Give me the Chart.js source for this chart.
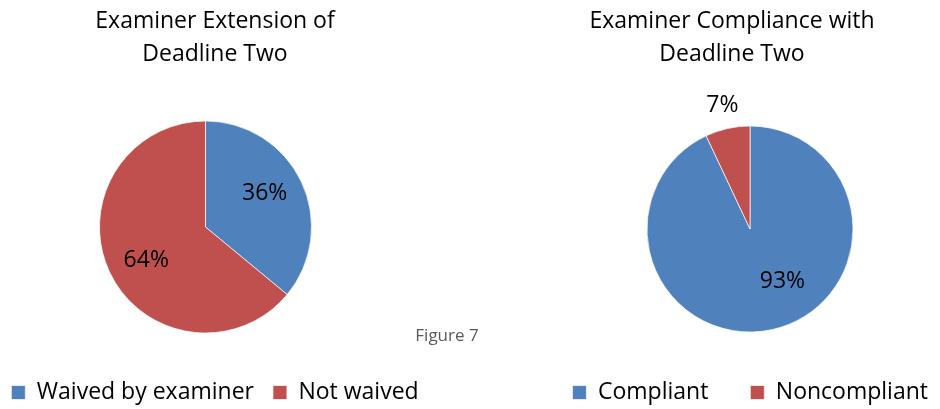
<!DOCTYPE html>
<html>
<head>
<meta charset="utf-8">
<title>Figure 7</title>
<script src="https://cdn.jsdelivr.net/npm/chart.js@4.4.0/dist/chart.umd.min.js"></script>
<style>
    html, body { margin: 0; padding: 0; background: #fff; }
    body { width: 940px; height: 409px; position: relative; overflow: hidden; }
    canvas { position: absolute; top: 0; }
    #extensionChart { left: -30px; }
    #complianceChart { left: 494px; }
    .caption {
        position: absolute; left: 397px; width: 100px; top: 323px;
        text-align: center; font: 17px 'Open Sans', sans-serif; color: #595959;
    }
</style>
</head>
<body>
<canvas id="extensionChart" width="490" height="414"></canvas>
<canvas id="complianceChart" width="476" height="414"></canvas>
<div class="caption">Figure 7</div>

<script>
// Chart data
const extensionLabels = ['Waived by examiner', 'Not waived'];
const extensionValues = [36, 64];

const complianceLabels = ['Compliant', 'Noncompliant'];
const complianceValues = [93, 7];

const sliceColors = ['#4F81BD', '#C0504D'];
const FONT = "'Open Sans', sans-serif";

// moves the pie sideways inside the chart area without touching title / legend
const pieShift = {
    id: 'pieShift',
    afterLayout(chart, args, opts) {
        const dx = opts.dx || 0;
        chart.chartArea.left += dx;
        chart.chartArea.right += dx;
    }
};

// percentage labels, Excel style: inside the slice, small slices outside
const percentLabels = {
    id: 'percentLabels',
    afterDatasetsDraw(chart, args, opts) {
        const ctx = chart.ctx;
        const meta = chart.getDatasetMeta(0);
        const values = chart.data.datasets[0].data;
        const total = values.reduce((a, b) => a + b, 0);
        ctx.save();
        ctx.font = '23px ' + FONT;
        ctx.fillStyle = '#000';
        ctx.textAlign = 'center';
        ctx.textBaseline = 'middle';
        meta.data.forEach((arc, i) => {
            const p = arc.getProps(['x', 'y', 'startAngle', 'endAngle', 'outerRadius'], true);
            const pct = values[i] / total * 100;
            let angle = (p.startAngle + p.endAngle) / 2;
            let dist = opts.dist;
            if (pct < 10) {
                dist = 1.23;
            } else {
                angle += (opts.shift || 0) * Math.PI / 180;
            }
            const x = p.x + Math.cos(angle) * p.outerRadius * dist;
            const y = p.y + Math.sin(angle) * p.outerRadius * dist;
            ctx.fillText(Math.round(pct) + '%', x, y);
        });
        ctx.restore();
    }
};

function makePie(id, title, labels, values, o) {
    const ctx = document.getElementById(id);
    return new Chart(ctx, {
        type: 'pie',
        data: {
            labels: labels,
            datasets: [{
                data: values,
                backgroundColor: sliceColors,
                borderColor: 'rgba(255,255,255,0.7)',
                borderWidth: 1,
                radius: o.radius
            }]
        },
        options: {
            responsive: false,
            animation: false,
            layout: { padding: 0 },
            plugins: {
                title: {
                    display: true,
                    text: title,
                    color: '#000',
                    font: { family: FONT, size: 23, weight: 'normal', lineHeight: 1.435 },
                    padding: { top: 5, bottom: o.titleGap }
                },
                legend: {
                    position: 'bottom',
                    align: o.legendAlign,
                    labels: {
                        color: '#000',
                        font: { family: FONT, size: 23 },
                        boxWidth: 14,
                        boxHeight: 14,
                        padding: o.legendGap
                    }
                },
                tooltip: { enabled: false },
                pieShift: { dx: o.dx },
                percentLabels: { dist: o.dist, shift: o.shift }
            }
        },
        plugins: [pieShift, percentLabels]
    });
}

makePie('extensionChart', ['Examiner Extension of', 'Deadline Two'],
    extensionLabels, extensionValues,
    { radius: 106, titleGap: 21, legendGap: 19, legendAlign: 'center', dx: -9.5, dist: 0.64, shift: -4 });

makePie('complianceChart', ['Examiner Compliance with', 'Deadline Two'],
    complianceLabels, complianceValues,
    { radius: 103, titleGap: 48, legendGap: 42, legendAlign: 'end', dx: 18, dist: 0.6, shift: -19 });
</script>
</body>
</html>
